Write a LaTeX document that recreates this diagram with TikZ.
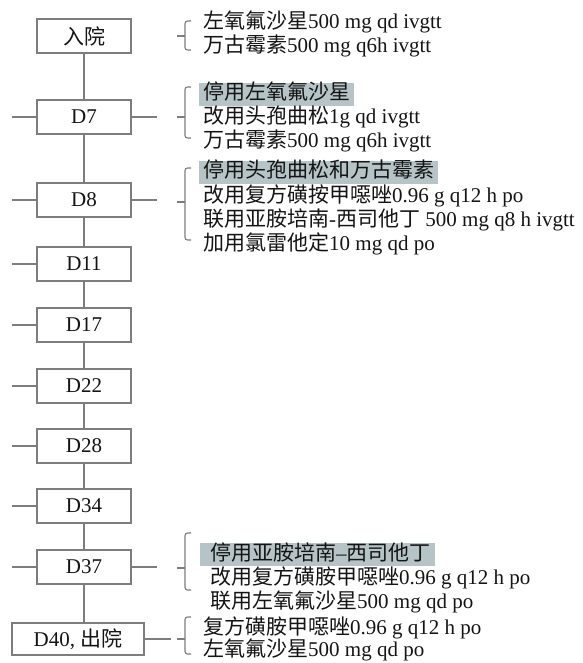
\documentclass[tikz,border=0pt]{standalone}
\usepackage{fontspec}
\setmainfont{Liberation Serif}
\newfontfamily\cjk{Noto Sans CJK SC}
\definecolor{linegray}{RGB}{125,125,125}
\definecolor{hlcol}{RGB}{182,196,200}
\definecolor{txt}{RGB}{20,20,20}
\begin{document}
\begin{tikzpicture}[x=1pt,y=-1pt,
  font=\fontsize{21}{25}\selectfont,
  daybox/.style={draw=linegray, line width=1.3pt, minimum width=94pt, minimum height=34pt, inner sep=0pt, text=txt},
  conn/.style={draw=linegray, line width=1.3pt},
  txtline/.style={anchor=base west, inner sep=0pt, text=txt},
  hlline/.style={anchor=base west, fill=hlcol, inner xsep=4pt, inner ysep=0pt, text height=17pt, text depth=6pt, text=txt},
  bracecurve/.style={draw=linegray, line width=1.1pt, rounded corners=2.5pt}]
\useasboundingbox (0,0) rectangle (582,663);

% day boxes
\node[daybox] (b0)  at (84,36)  {\cjk 入院};
\node[daybox] (b7)  at (84,117) {D7};
\node[daybox] (b8)  at (84,200) {D8};
\node[daybox] (b11) at (84,264) {D11};
\node[daybox] (b17) at (84,325) {D17};
\node[daybox] (b22) at (84,386) {D22};
\node[daybox] (b28) at (84,446) {D28};
\node[daybox] (b34) at (84,506) {D34};
\node[daybox] (b37) at (84,567) {D37};
\node[daybox, minimum width=132pt, minimum height=32pt] (b40) at (78,639) {D40, {\cjk 出院}};

% trunk
\draw[conn] (b0.south) -- (b7.north);
\draw[conn] (b7.south) -- (b8.north);
\draw[conn] (b8.south) -- (b11.north);
\draw[conn] (b11.south) -- (b17.north);
\draw[conn] (b17.south) -- (b22.north);
\draw[conn] (b22.south) -- (b28.north);
\draw[conn] (b28.south) -- (b34.north);
\draw[conn] (b34.south) -- (b37.north);
\draw[conn] (b37.south) -- (b37.south |- b40.north);

% left stubs
\foreach \n in {b7,b8,b11,b17,b22,b28,b34,b37}{
  \coordinate (l\n) at (12,0 |- \n.west);
  \draw[conn] (\n.west) -- (l\n);
}
% right stubs
\foreach \n in {b7,b8,b37}{
  \coordinate (r\n) at (157,0 |- \n.east);
  \draw[conn] (\n.east) -- (r\n);
}
\coordinate (rb40) at (171,0 |- b40.east);
\draw[conn] (b40.east) -- (rb40);

% braces
\foreach \t/\b/\m in {21/50/36, 87/138/117, 168/240/202, 533/590/568, 617/654/639}{
  \draw[bracecurve] (191,\t) -- (185,\t) -- (185,\b) -- (191,\b);
  \draw[draw=linegray, line width=1.1pt] (185,\m) -- (177,\m);
}

% texts: admission
\node[txtline] (t01) at (203,29) {{\cjk 左氧氟沙星}500 mg qd ivgtt};
\node[txtline] (t02) at (203,53) {{\cjk 万古霉素}500 mg q6h ivgtt};
% D7
\node[hlline]  (t71) at (199,100) {\cjk 停用左氧氟沙星};
\node[txtline] (t72) at (203,124) {{\cjk 改用头孢曲松}1g qd ivgtt};
\node[txtline] (t73) at (203,148) {{\cjk 万古霉素}500 mg q6h ivgtt};
% D8
\node[hlline]  (t81) at (199,178) {\cjk 停用头孢曲松和万古霉素};
\node[txtline] (t82) at (203,202) {{\cjk 改用复方磺按甲噁唑}0.96 g q12 h po};
\node[txtline] (t83) at (203,226) {{\cjk 联用亚胺培南}-{\cjk 西司他丁} 500 mg q8 h ivgtt};
\node[txtline] (t84) at (203,250) {{\cjk 加用氯雷他定}10 mg qd po};
% D37
\node[hlline]  (t371) at (200,560) {\hspace*{6pt}{\cjk 停用亚胺培南}--{\cjk 西司他丁}};
\node[txtline] (t372) at (210,584) {{\cjk 改用复方磺胺甲噁唑}0.96 g q12 h po};
\node[txtline] (t373) at (210,608) {{\cjk 联用左氧氟沙星}500 mg qd po};
% D40
\node[txtline] (t401) at (203,634) {{\cjk 复方磺胺甲噁唑}0.96 g q12 h po};
\node[txtline] (t402) at (203,656) {{\cjk 左氧氟沙星}500 mg qd po};
\end{tikzpicture}
\end{document}
